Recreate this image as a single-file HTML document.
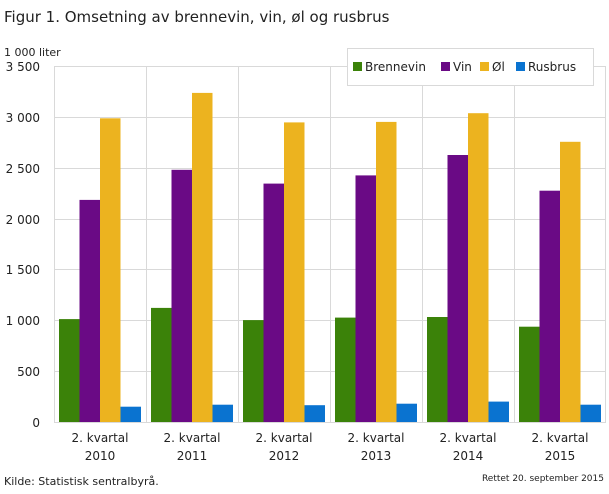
<!DOCTYPE html>
<html><head><meta charset="utf-8"><style>
body{margin:0;background:#fff;width:609px;height:489px;overflow:hidden}
</style></head><body>
<svg width="609" height="489" xmlns="http://www.w3.org/2000/svg" font-family="'DejaVu Sans','Liberation Sans',sans-serif">
<text x="4" y="22" font-size="15" fill="#222">Figur 1. Omsetning av brennevin, vin, øl og rusbrus</text>
<text x="4" y="56" font-size="11" fill="#222">1 000 liter</text>
<g stroke="#d9d9d9" stroke-width="1">
<line x1="54" y1="66.5" x2="606" y2="66.5"/>
<line x1="54" y1="117.5" x2="606" y2="117.5"/>
<line x1="54" y1="168.5" x2="606" y2="168.5"/>
<line x1="54" y1="219.5" x2="606" y2="219.5"/>
<line x1="54" y1="269.5" x2="606" y2="269.5"/>
<line x1="54" y1="320.5" x2="606" y2="320.5"/>
<line x1="54" y1="371.5" x2="606" y2="371.5"/>
<line x1="54" y1="422.5" x2="606" y2="422.5"/>
<line x1="54.5" y1="66" x2="54.5" y2="422"/>
<line x1="146.5" y1="66" x2="146.5" y2="422"/>
<line x1="238.5" y1="66" x2="238.5" y2="422"/>
<line x1="330.5" y1="66" x2="330.5" y2="422"/>
<line x1="422.5" y1="66" x2="422.5" y2="422"/>
<line x1="514.5" y1="66" x2="514.5" y2="422"/>
<line x1="605.5" y1="66" x2="605.5" y2="422"/>
</g>
<g font-size="12" fill="#222" text-anchor="end">
<text x="40" y="71">3 500</text><text x="40" y="122">3 000</text><text x="40" y="173">2 500</text>
<text x="40" y="224">2 000</text><text x="40" y="274">1 500</text><text x="40" y="325">1 000</text>
<text x="40" y="376">500</text><text x="40" y="427">0</text>
</g>
<g>
<rect x="59" y="319.1" width="20.5" height="102.9" fill="#3b8209"/>
<rect x="79.5" y="199.9" width="20.5" height="222.1" fill="#6a0a85"/>
<rect x="100" y="118.3" width="20.5" height="303.7" fill="#ecb31f"/>
<rect x="120.5" y="406.7" width="20.5" height="15.3" fill="#0a73d0"/>

<rect x="151" y="307.9" width="20.5" height="114.1" fill="#3b8209"/>
<rect x="171.5" y="169.8" width="20.5" height="252.2" fill="#6a0a85"/>
<rect x="192" y="92.9" width="20.5" height="329.1" fill="#ecb31f"/>
<rect x="212.5" y="404.7" width="20.5" height="17.3" fill="#0a73d0"/>

<rect x="243" y="320.1" width="20.5" height="101.9" fill="#3b8209"/>
<rect x="263.5" y="183.6" width="20.5" height="238.4" fill="#6a0a85"/>
<rect x="284" y="122.4" width="20.5" height="299.6" fill="#ecb31f"/>
<rect x="304.5" y="405.2" width="20.5" height="16.8" fill="#0a73d0"/>

<rect x="335" y="317.6" width="20.5" height="104.4" fill="#3b8209"/>
<rect x="355.5" y="175.4" width="20.5" height="246.6" fill="#6a0a85"/>
<rect x="376" y="121.9" width="20.5" height="300.1" fill="#ecb31f"/>
<rect x="396.5" y="403.7" width="20.5" height="18.3" fill="#0a73d0"/>

<rect x="427" y="317" width="20.5" height="105" fill="#3b8209"/>
<rect x="447.5" y="155" width="20.5" height="267" fill="#6a0a85"/>
<rect x="468" y="113.2" width="20.5" height="308.8" fill="#ecb31f"/>
<rect x="488.5" y="401.6" width="20.5" height="20.4" fill="#0a73d0"/>

<rect x="519" y="326.7" width="20.5" height="95.3" fill="#3b8209"/>
<rect x="539.5" y="190.7" width="20.5" height="231.3" fill="#6a0a85"/>
<rect x="560" y="141.8" width="20.5" height="280.2" fill="#ecb31f"/>
<rect x="580.5" y="404.7" width="20.5" height="17.3" fill="#0a73d0"/>
</g>
<rect x="347.5" y="48.5" width="246" height="37" fill="#fff" stroke="#d9d9d9"/>
<g font-size="12" fill="#222">
<rect x="353" y="62" width="9" height="9" fill="#3b8209"/><text x="365" y="71">Brennevin</text>
<rect x="441" y="62" width="9" height="9" fill="#6a0a85"/><text x="453" y="71">Vin</text>
<rect x="480" y="62" width="9" height="9" fill="#ecb31f"/><text x="492" y="71">Øl</text>
<rect x="516" y="62" width="9" height="9" fill="#0a73d0"/><text x="528" y="71">Rusbrus</text>
</g>
<g font-size="12" fill="#222" text-anchor="middle">
<text x="100" y="442">2. kvartal</text><text x="100" y="460">2010</text>
<text x="192" y="442">2. kvartal</text><text x="192" y="460">2011</text>
<text x="284" y="442">2. kvartal</text><text x="284" y="460">2012</text>
<text x="376" y="442">2. kvartal</text><text x="376" y="460">2013</text>
<text x="468" y="442">2. kvartal</text><text x="468" y="460">2014</text>
<text x="560" y="442">2. kvartal</text><text x="560" y="460">2015</text>
</g>
<text x="4" y="485" font-size="11" fill="#222">Kilde: Statistisk sentralbyrå.</text>
<text x="604" y="481" font-size="9" fill="#222" text-anchor="end">Rettet 20. september 2015</text>
</svg>
</body></html>
